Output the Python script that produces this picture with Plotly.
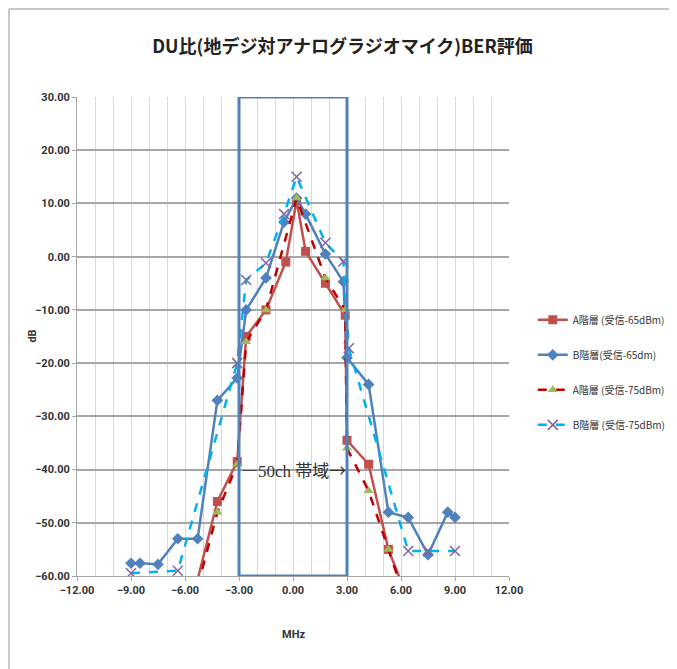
import plotly.graph_objects as go

# ---- data ----
a65_x = [-5.4, -4.2, -3.1, -2.6, -1.5, -0.4, 0.2, 0.7, 1.8, 2.9, 3.0, 4.2, 5.3, 6.4]
a65_y = [-62, -46, -38.5, -15, -10, -1, 10.5, 1, -5, -11, -34.5, -39, -55, -64.5]

b65_x = [-9.0, -8.5, -7.5, -6.4, -5.3, -4.2, -3.1, -2.6, -1.5, -0.5, 0.2, 0.7, 1.8, 2.8, 3.0, 4.2, 5.3, 6.4, 7.5, 8.6, 9.0]
b65_y = [-57.6, -57.6, -57.8, -53, -53, -27, -22.8, -10, -4, 6.5, 11, 8, 0.5, -4.7, -19, -24, -48, -49, -56, -48, -49]

a75_x = [-5.3, -4.2, -3.1, -2.6, -1.5, 0.2, 1.8, 2.9, 3.0, 4.2, 5.3, 6.4]
a75_y = [-62, -48, -39, -16, -10, 11, -4, -10, -36, -44, -55, -66]

b75_x = [-9.0, -6.4, -3.1, -2.6, -1.5, -0.5, 0.2, 1.8, 2.8, 3.1, 6.4, 7.5, 9.0]
b75_y = [-59.5, -59, -20, -4.4, -1.2, 8, 15, 2.6, -0.9, -17.2, -55.3, -55.3, -55.3]

names = ["A階層 (受信-65dBm)", "B階層(受信-65dm)", "A階層 (受信-75dBm)", "B階層 (受信-75dBm)"]
title = "DU比(地デジ対アナログラジオマイク)BER評価"
band_label = "<span style='font-family:Noto Sans CJK JP'>―</span>50ch 帯域<span style='font-family:Noto Sans CJK JP'>→</span>"
x_title = "MHz"
y_title = "dB"
band_x = [-3, 3]
y_range = [-60, 30]
x_range = [-12, 12]

FONT = "Liberation Sans Narrow, Roboto, Noto Sans CJK JP"

fig = go.Figure()
fig.add_trace(go.Scatter(x=a65_x, y=a65_y, name=names[0], mode="lines+markers",
                         line=dict(color="#C0504D", width=2.5),
                         marker=dict(symbol="square", size=9, color="#C0504D"),
                         legendgroup="g1"))
fig.add_trace(go.Scatter(x=b65_x, y=b65_y, name=names[1], mode="lines+markers",
                         line=dict(color="#4F81BD", width=2.5),
                         marker=dict(symbol="diamond", size=9, color="#4F81BD"),
                         legendgroup="g2"))
fig.add_trace(go.Scatter(x=a75_x, y=a75_y, name=names[2], mode="lines+markers",
                         line=dict(color="#C00000", width=2.5, dash="dash"),
                         marker=dict(symbol="triangle-up", size=9, color="#9BBB59"),
                         legendgroup="g3"))
fig.add_trace(go.Scatter(x=b75_x, y=b75_y, name=names[3], mode="lines+markers",
                         line=dict(color="#00B0F0", width=2.5, dash="dash"),
                         marker=dict(symbol="x-thin", size=10, color="#8064A2",
                                     line=dict(width=1.5, color="#8064A2")),
                         legendgroup="g4"))

# 50ch band rectangle
fig.add_shape(type="rect", xref="x", yref="y", x0=band_x[0], x1=band_x[1],
              y0=y_range[0], y1=y_range[1], line=dict(color="#4F81BD", width=3),
              layer="above")
fig.add_annotation(x=0, y=-40, xref="x", yref="y", text=band_label, showarrow=False,
                   font=dict(family="Liberation Serif, Noto Sans CJK JP", size=17, color="#333333"))

# axis titles
fig.add_annotation(x=-0.104, y=0.5, xref="paper", yref="paper", text="<b>" + y_title + "</b>",
                   showarrow=False, textangle=-90, xanchor="center", yanchor="middle",
                   font=dict(family=FONT, size=11, color="#333333"))
fig.add_annotation(x=0.5, y=-0.123, xref="paper", yref="paper", text="<b>" + x_title + "</b>",
                   showarrow=False, xanchor="center", yanchor="middle",
                   font=dict(family=FONT, size=11, color="#333333"))

# outer border
fig.add_shape(type="line", xref="paper", yref="paper", x0=-0.1574, x1=-0.1574, y0=-0.2, y1=1.1837,
              line=dict(color="#C8C8C8", width=2))
fig.add_shape(type="line", xref="paper", yref="paper", x0=-0.1574, x1=1.39, y0=1.1837, y1=1.1837,
              line=dict(color="#C8C8C8", width=2))

fig.update_layout(
    width=669, height=661,
    margin=dict(l=69, r=168, t=89, b=93, autoexpand=False),
    paper_bgcolor="white", plot_bgcolor="white",
    title=dict(text="<b>" + title + "</b>", x=0.5, xanchor="center", y=0.941, yanchor="middle",
               font=dict(family="Noto Sans CJK JP", size=18, color="#222222")),
    showlegend=True,
    legend=dict(x=1.055, y=0.565, xanchor="left", yanchor="top", tracegroupgap=16,
                font=dict(family="Liberation Sans Narrow, Noto Sans CJK JP", size=10, color="#333333"),
                itemwidth=30, bgcolor="rgba(0,0,0,0)"),
    xaxis=dict(range=x_range, dtick=3, tick0=0, tickformat=".2f", automargin=False,
               showgrid=True, gridcolor="#D9D9D9", gridwidth=1,
               minor=dict(dtick=1, showgrid=True, gridcolor="#D9D9D9", gridwidth=1),
               zeroline=False, showline=True, linecolor="#A6A6A6",
               ticks="outside", ticklen=4, tickcolor="#A6A6A6",
               tickfont=dict(family=FONT, size=11, color="#333333", weight="bold")),
    yaxis=dict(range=y_range, dtick=10, tickformat=".2f", automargin=False,
               showgrid=True, gridcolor="#A6A6A6", gridwidth=1.5,
               zeroline=False, showline=True, linecolor="#A6A6A6",
               ticks="outside", ticklen=4, tickcolor="#A6A6A6",
               tickfont=dict(family=FONT, size=11, color="#333333", weight="bold")),
)

fig.write_html("out.html")
